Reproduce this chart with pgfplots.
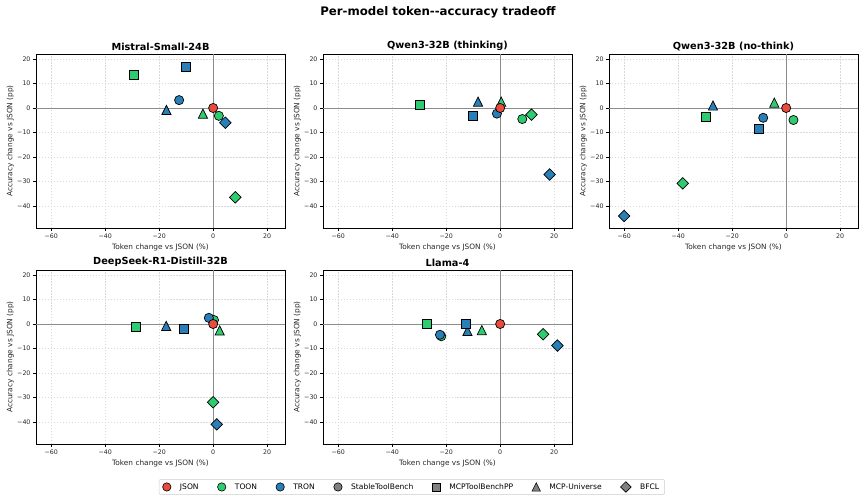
\documentclass[border=0pt]{standalone}
\usepackage{pgfplots}
\pgfplotsset{compat=1.18}
\usepackage{fontspec}
\setmainfont{DejaVu Sans}
\definecolor{cjson}{HTML}{E74C3C}
\definecolor{ctoon}{HTML}{2ECC71}
\definecolor{ctron}{HTML}{2980B9}
\definecolor{cgray}{HTML}{808080}
\pgfdeclareplotmark{mcirc}{\pgfpathcircle{\pgfpointorigin}{\pgfplotmarksize}\pgfusepathqfillstroke}
\pgfdeclareplotmark{msq}{\pgfpathrectangle{\pgfqpoint{-\pgfplotmarksize}{-\pgfplotmarksize}}{\pgfqpoint{2\pgfplotmarksize}{2\pgfplotmarksize}}\pgfusepathqfillstroke}
\pgfdeclareplotmark{mtri}{\pgfpathmoveto{\pgfqpoint{0pt}{\pgfplotmarksize}}\pgfpathlineto{\pgfqpoint{-\pgfplotmarksize}{-\pgfplotmarksize}}\pgfpathlineto{\pgfqpoint{\pgfplotmarksize}{-\pgfplotmarksize}}\pgfpathclose\pgfusepathqfillstroke}
\pgfdeclareplotmark{mdia}{\pgfpathmoveto{\pgfqpoint{0pt}{\pgfplotmarksize}}\pgfpathlineto{\pgfqpoint{\pgfplotmarksize}{0pt}}\pgfpathlineto{\pgfqpoint{0pt}{-\pgfplotmarksize}}\pgfpathlineto{\pgfqpoint{-\pgfplotmarksize}{0pt}}\pgfpathclose\pgfusepathqfillstroke}
\pgfplotsset{
  panel/.style={
    scale only axis, width=249bp, height=174bp, anchor=south west,
    xmin=-65.6, xmax=26.6, ymin=-48.9, ymax=22,
    xtick={-60,-40,-20,0,20}, xticklabels={−60,−40,−20,0,20},
    ytick={-40,-30,-20,-10,0,10,20}, yticklabels={−40,−30,−20,−10,0,10,20},
    tick pos=left, tick align=outside, major tick length=3pt,
    tick style={black, line width=0.5pt},
    tick label style={font=\fontsize{6.3}{7}\selectfont, text=black!85},
    xticklabel style={yshift=1pt}, yticklabel style={xshift=1pt},
    label style={font=\fontsize{7.4}{8}\selectfont, text=black!85},
    xlabel={Token change vs JSON (\%)}, ylabel={Accuracy change vs JSON (pp)},
    xlabel style={yshift=1.5pt}, ylabel style={yshift=-3.5pt},
    title style={font=\bfseries\fontsize{9.8}{11}\selectfont, yshift=-6pt},
    grid=major, grid style={dash pattern=on 1.5pt off 1.5pt, black!15, line width=0.4pt},
    axis line style={black, line width=0.8pt},
  },
  pt/.style={only marks, forget plot},
  ST/.style={pt, mark=mcirc, mark size=4.6pt},
  MP/.style={pt, mark=msq, mark size=4.5pt},
  MU/.style={pt, mark=mtri, mark size=4.6pt},
  BF/.style={pt, mark=mdia, mark size=5.8pt},
  J/.style={mark options={fill=cjson, draw=black, line width=0.7pt}},
  T/.style={mark options={fill=ctoon, draw=black, line width=0.7pt}},
  R/.style={mark options={fill=ctron, draw=black, line width=0.7pt}},
  zl/.style={forget plot, black!45, line width=0.8pt, no marks},
}
\newcommand{\zerolines}{%
  \addplot[zl] coordinates {(0,-48.9) (0,22)};
  \addplot[zl] coordinates {(-65.6,0) (26.6,0)};}
\begin{document}
\begin{tikzpicture}
\path[use as bounding box] (0,0) rectangle (865bp,502bp);
\node[font=\bfseries\fontsize{11.8}{13}\selectfont] at (438bp,490bp) {Per-model token-{}-accuracy tradeoff};

% Mistral
\begin{axis}[panel, at={(36bp,274bp)}, title={Mistral-Small-24B}]
\zerolines
\addplot[MU,T] coordinates {(-3.8,-2.3)};
\addplot[ST,T] coordinates {(2.1,-3.2)};
\addplot[MP,T] coordinates {(-29.4,13.5)};
\addplot[BF,T] coordinates {(8.2,-36.4)};
\addplot[MU,R] coordinates {(-17.3,-0.8)};
\addplot[ST,R] coordinates {(-12.6,3.2)};
\addplot[MP,R] coordinates {(-10.2,16.9)};
\addplot[BF,R] coordinates {(4.5,-6.0)};
\addplot[ST,J] coordinates {(0,0)};
\end{axis}

% Qwen thinking
\begin{axis}[panel, at={(323bp,274bp)}, title={Qwen3-32B (thinking)}]
\zerolines
\addplot[MU,T] coordinates {(0.4,2.6)};
\addplot[ST,T] coordinates {(8.2,-4.5)};
\addplot[MP,T] coordinates {(-29.9,1.1)};
\addplot[BF,T] coordinates {(11.6,-2.7)};
\addplot[MU,R] coordinates {(-8.2,2.6)};
\addplot[ST,R] coordinates {(-1.2,-2.3)};
\addplot[MP,R] coordinates {(-10.1,-3.3)};
\addplot[BF,R] coordinates {(18.3,-27.1)};
\addplot[ST,J] coordinates {(0,0)};
\end{axis}

% Qwen no-think
\begin{axis}[panel, at={(609bp,274bp)}, title={Qwen3-32B (no-think)}]
\zerolines
\addplot[MU,T] coordinates {(-4.4,2.2)};
\addplot[ST,T] coordinates {(2.7,-4.9)};
\addplot[MP,T] coordinates {(-29.6,-3.7)};
\addplot[BF,T] coordinates {(-38.3,-30.7)};
\addplot[MU,R] coordinates {(-27.1,1.0)};
\addplot[ST,R] coordinates {(-8.5,-4.0)};
\addplot[MP,R] coordinates {(-10.1,-8.5)};
\addplot[BF,R] coordinates {(-60.0,-44.0)};
\addplot[ST,J] coordinates {(0,0)};
\end{axis}

% DeepSeek
\begin{axis}[panel, at={(36bp,58bp)}, title={DeepSeek-R1-Distill-32B}]
\zerolines
\addplot[MU,T] coordinates {(2.4,-2.6)};
\addplot[ST,T] coordinates {(0.3,1.6)};
\addplot[MP,T] coordinates {(-28.6,-1.1)};
\addplot[BF,T] coordinates {(0.0,-31.9)};
\addplot[MU,R] coordinates {(-17.4,-0.8)};
\addplot[ST,R] coordinates {(-1.6,2.5)};
\addplot[MP,R] coordinates {(-10.9,-1.9)};
\addplot[BF,R] coordinates {(1.3,-40.9)};
\addplot[ST,J] coordinates {(0,0)};
\end{axis}

% Llama
\begin{axis}[panel, at={(323bp,58bp)}, title={Llama-4},
  legend columns=7,
  legend style={at={(0.357,-0.247)}, anchor=center, draw=black!20, rounded corners=1pt,
    font=\fontsize{7.6}{8}\selectfont, inner xsep=3.5pt, inner ysep=1.8pt,
    /tikz/every odd column/.append style={column sep=7pt},
    /tikz/every even column/.append style={column sep=17pt}},
  legend cell align=left]
\zerolines
\addplot[MU,T] coordinates {(-6.8,-2.5)};
\addplot[ST,T] coordinates {(-21.8,-5.0)};
\addplot[MP,T] coordinates {(-27.2,0.0)};
\addplot[BF,T] coordinates {(15.9,-4.2)};
\addplot[MU,R] coordinates {(-12.1,-2.8)};
\addplot[ST,R] coordinates {(-22.3,-4.4)};
\addplot[MP,R] coordinates {(-12.7,0.0)};
\addplot[BF,R] coordinates {(21.2,-8.8)};
\addplot[ST,J] coordinates {(0,0)};
\addlegendimage{only marks, mark=mcirc, mark size=4.2pt, mark options={fill=cjson, draw=black, line width=0.6pt}}
\addlegendentry{JSON}
\addlegendimage{only marks, mark=mcirc, mark size=4.2pt, mark options={fill=ctoon, draw=black, line width=0.6pt}}
\addlegendentry{TOON}
\addlegendimage{only marks, mark=mcirc, mark size=4.2pt, mark options={fill=ctron, draw=black, line width=0.6pt}}
\addlegendentry{TRON}
\addlegendimage{only marks, mark=mcirc, mark size=4.2pt, mark options={fill=cgray, draw=black, line width=0.6pt}}
\addlegendentry{StableToolBench}
\addlegendimage{only marks, mark=msq, mark size=4pt, mark options={fill=cgray, draw=black, line width=0.6pt}}
\addlegendentry{MCPToolBenchPP}
\addlegendimage{only marks, mark=mtri, mark size=4.2pt, mark options={fill=cgray, draw=black, line width=0.6pt}}
\addlegendentry{MCP-Universe}
\addlegendimage{only marks, mark=mdia, mark size=5.3pt, mark options={fill=cgray, draw=black, line width=0.6pt}}
\addlegendentry{BFCL}
\end{axis}
\end{tikzpicture}
\end{document}
